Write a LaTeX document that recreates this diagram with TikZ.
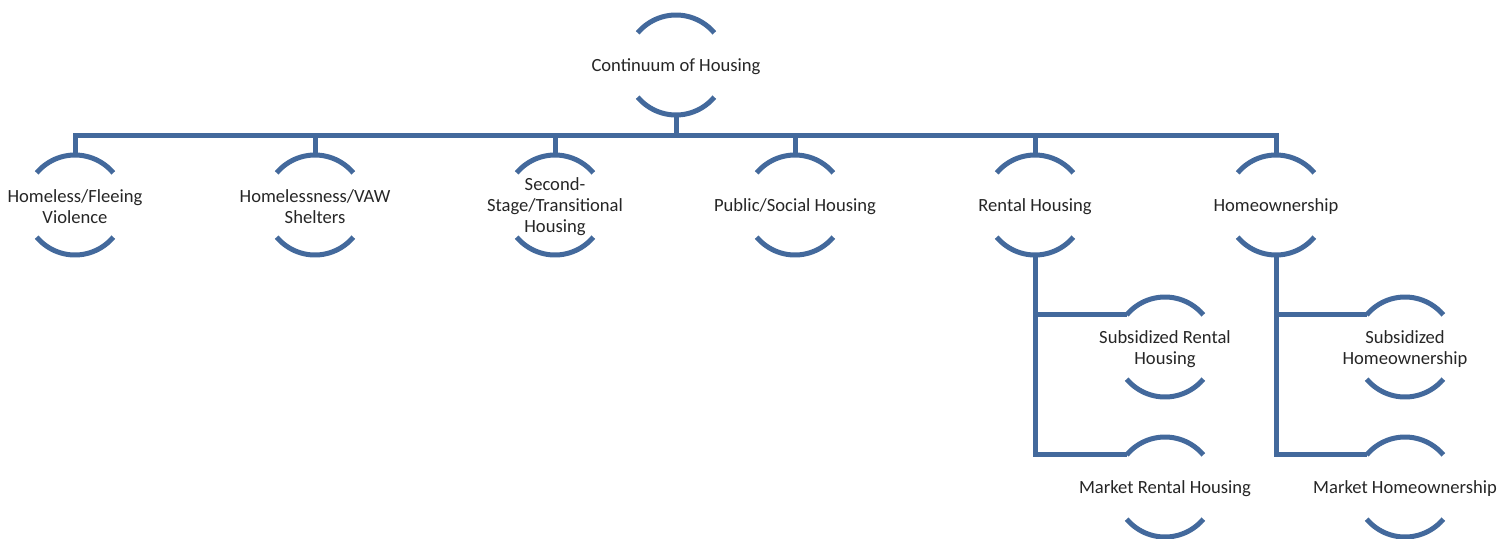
\documentclass[tikz,border=0pt]{standalone}
\usepackage{fontspec}
\setmainfont{Carlito}
\usetikzlibrary{calc}
\definecolor{hubblue}{HTML}{43699C}
\tikzset{
  x=1pt,y=1pt,
  lbl/.style={font=\fontsize{18.6}{21}\selectfont, text=black!85, align=center, inner sep=0pt},
  ringline/.style={draw=hubblue, line width=5pt},
  conn/.style={draw=hubblue, line width=5pt, line join=miter}
}
\newcommand\ringnode[4]{%
  \coordinate (#1) at (#2);
  \node[lbl] (#1-text) at ($(#1)+(0,-2)$) {#3};
  \draw[ringline] ($(#1)+(140:50pt)$) arc[start angle=140, end angle=40, radius=50pt];
  \draw[ringline] ($(#1)+(220:50pt)$) arc[start angle=220, end angle=320, radius=50pt];
}
\begin{document}
\begin{tikzpicture}
\useasboundingbox (0,0) rectangle (1498,-538);
\ringnode{top}{676,-65}{Continuum of Housing}{}
\ringnode{n1}{75,-205}{Homeless/Fleeing\\Violence}{}
\ringnode{n2}{315,-205}{Homelessness/VAW\\Shelters}{}
\ringnode{n3}{555,-205}{Second-\\Stage/Transitional\\Housing}{}
\ringnode{n4}{795,-205}{Public/Social Housing}{}
\ringnode{n5}{1035,-205}{Rental Housing}{}
\ringnode{n6}{1276,-205}{Homeownership}{}
\ringnode{s1}{1165,-347}{Subsidized Rental\\Housing}{}
\ringnode{m1}{1165,-487}{Market Rental Housing}{}
\ringnode{s2}{1405,-347}{Subsidized\\Homeownership}{}
\ringnode{m2}{1405,-487}{Market Homeownership}{}
% bus
\draw[conn] ($(top)+(0,-50)$) -- ($(top)+(0,-70)$);
\draw[conn] ($(n1)+(0,50)$) |- ($(n6)+(0,70)$) -- ($(n6)+(0,50)$);
\foreach \k in {n2,n3,n4,n5}{
  \draw[conn] ($(\k)+(0,50)$) -- ++(0,20);
}
% sub branches
\draw[conn] ($(n5)+(0,-50)$) |- ($(s1)+(140:50pt)$);
\draw[conn] ($(n5)+(0,-50)$) |- ($(m1)+(140:50pt)$);
\draw[conn] ($(n6)+(0,-50)$) |- ($(s2)+(140:50pt)$);
\draw[conn] ($(n6)+(0,-50)$) |- ($(m2)+(140:50pt)$);
\end{tikzpicture}
\end{document}
